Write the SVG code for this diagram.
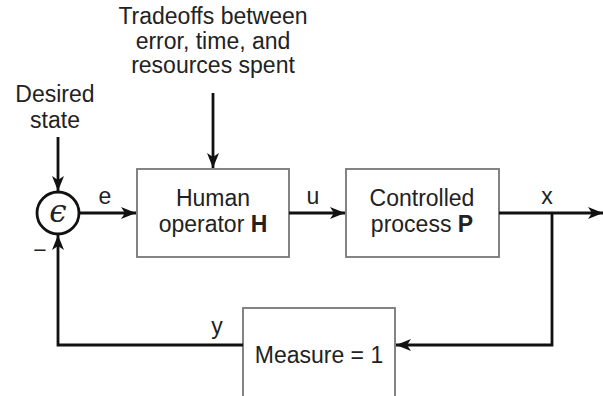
<svg xmlns="http://www.w3.org/2000/svg" width="603" height="396" viewBox="0 0 603 396">
<style>
text{font-family:"Liberation Sans",Arial,sans-serif;font-size:23px;fill:#222;text-anchor:middle}
.box{fill:#fff;stroke:#777;stroke-width:1.8}
.wire{fill:none;stroke:#111;stroke-width:2.8}
.b{font-weight:bold}
</style>
<defs>
<marker id="ah" markerUnits="userSpaceOnUse" markerWidth="16" markerHeight="12" refX="15" refY="6" orient="auto">
<path d="M0,0 L15,6 L0,12 L4,6 Z" fill="#111"/>
</marker>
</defs>
<rect width="603" height="396" fill="#fff"/>
<g id="labels">
<text x="213" y="24">Tradeoffs between</text>
<text x="213" y="48.5">error, time, and</text>
<text x="213" y="73">resources spent</text>
<text x="55" y="102">Desired</text>
<text x="55" y="128">state</text>
</g>
<g id="sum">
<circle cx="58" cy="213" r="21" fill="#fff" stroke="#111" stroke-width="2.8"/>
<text x="58" y="222" style="font-family:'DejaVu Serif',serif;font-style:italic;font-size:31px">ϵ</text>
</g>
<g id="human">
<rect class="box" x="137" y="169" width="152" height="88"/>
<text x="213" y="206">Human</text>
<text x="213" y="232">operator <tspan class="b">H</tspan></text>
</g>
<g id="process">
<rect class="box" x="346" y="169" width="153" height="88"/>
<text x="422" y="206">Controlled</text>
<text x="422" y="232">process <tspan class="b">P</tspan></text>
</g>
<g id="measure">
<rect class="box" x="243" y="308" width="152" height="100"/>
<text x="319" y="363">Measure = 1</text>
</g>
<g id="connectors">
<path class="wire" d="M58,137 L58,191" marker-end="url(#ah)"/>
<path class="wire" d="M213,93 L213,168" marker-end="url(#ah)"/>
<path class="wire" d="M79,213 L136,213" marker-end="url(#ah)"/>
<path class="wire" d="M289,213 L345,213" marker-end="url(#ah)"/>
<path class="wire" d="M499,213 L603,213" marker-end="url(#ah)"/>
<path class="wire" d="M552,213 L552,345 L396,345" marker-end="url(#ah)"/>
<path class="wire" d="M243,345 L58,345 L58,235" marker-end="url(#ah)"/>
<text x="105" y="204">e</text>
<text x="313" y="204">u</text>
<text x="547" y="204">x</text>
<text x="217" y="334">y</text>
<text x="40" y="258">−</text>
</g>
</svg>
